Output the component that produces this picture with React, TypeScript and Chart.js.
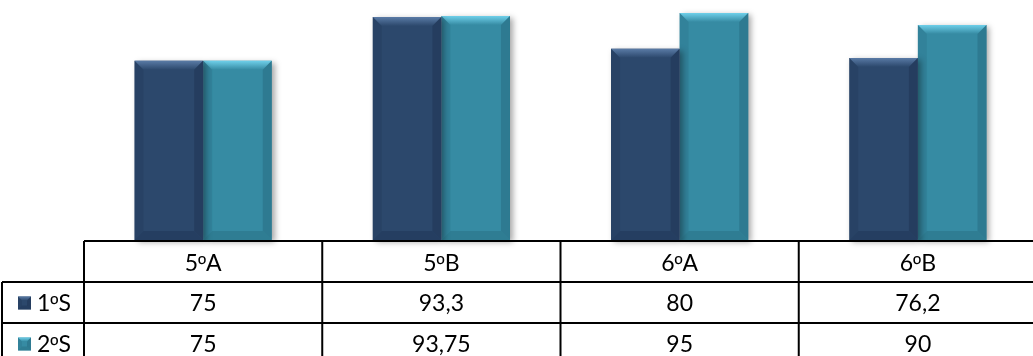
import React, { useEffect, useRef } from "react";
import { Chart, registerables } from "chart.js";

Chart.register(...registerables);

const categories = ["5ºA", "5ºB", "6ºA", "6ºB"];
const seriesNames = ["1ºS", "2ºS"];
const series1 = [75, 93.3, 80, 76.2];
const series2 = [75, 93.75, 95, 90];

const baseColors = ["#2C486C", "#368BA3"];
const lightColors = ["#5A7BA6", "#6FD0EA"];
const darkColors = ["#22395A", "#2B7489"];

const FONT = "Lato, 'Open Sans', sans-serif";
const ORD_FONT = "'Liberation Sans', Arial, sans-serif";
const FS = 23;

const fmt = (v: number) => String(v).replace(".", ",");

// draws text, rendering the ordinal indicator with a font whose º is underlined
function drawText(ctx: CanvasRenderingContext2D, text: string, x: number, y: number, align: "center" | "left") {
  const parts: { t: string; f: string }[] = [];
  for (const ch of text) {
    const f = ch === "º" ? `${FS - 1}px ${ORD_FONT}` : `${FS}px ${FONT}`;
    if (parts.length && parts[parts.length - 1].f === f) parts[parts.length - 1].t += ch;
    else parts.push({ t: ch, f });
  }
  let total = 0;
  const widths = parts.map((p) => {
    ctx.font = p.f;
    const w = ctx.measureText(p.t).width;
    total += w;
    return w;
  });
  let cx = align === "center" ? x - total / 2 : x;
  ctx.textAlign = "left";
  ctx.textBaseline = "alphabetic";
  parts.forEach((p, i) => {
    ctx.font = p.f;
    ctx.fillText(p.t, cx, y);
    cx += widths[i];
  });
}

function bevel(ctx: CanvasRenderingContext2D, x0: number, y0: number, x1: number, y1: number, b: number, di: number) {
  const g = ctx.createLinearGradient(0, y0, 0, y0 + b);
  g.addColorStop(0, lightColors[di]);
  g.addColorStop(1, baseColors[di]);
  ctx.fillStyle = g;
  ctx.beginPath();
  ctx.moveTo(x0, y0);
  ctx.lineTo(x1, y0);
  ctx.lineTo(x1 - b, y0 + b);
  ctx.lineTo(x0 + b, y0 + b);
  ctx.closePath();
  ctx.fill();
  ctx.globalAlpha = 0.35;
  ctx.fillStyle = darkColors[di];
  ctx.beginPath();
  ctx.moveTo(x0, y0);
  ctx.lineTo(x0 + b, y0 + b);
  ctx.lineTo(x0 + b, y1 - b);
  ctx.lineTo(x0, y1);
  ctx.closePath();
  ctx.fill();
  ctx.globalAlpha = 0.7;
  ctx.beginPath();
  ctx.moveTo(x1, y0);
  ctx.lineTo(x1 - b, y0 + b);
  ctx.lineTo(x1 - b, y1 - b);
  ctx.lineTo(x1, y1);
  ctx.closePath();
  ctx.fill();
  ctx.globalAlpha = 0.6;
  ctx.beginPath();
  ctx.moveTo(x0, y1);
  ctx.lineTo(x0 + b, y1 - b);
  ctx.lineTo(x1 - b, y1 - b);
  ctx.lineTo(x1, y1);
  ctx.closePath();
  ctx.fill();
  ctx.globalAlpha = 1;
}

const barStylePlugin = {
  id: "barStyle",
  beforeDatasetDraw(chart: any) {
    const ctx = chart.ctx;
    ctx.save();
    ctx.shadowColor = "rgba(0,0,0,0.35)";
    ctx.shadowBlur = 6;
    ctx.shadowOffsetX = 3;
    ctx.shadowOffsetY = 2;
  },
  afterDatasetDraw(chart: any, args: any) {
    const ctx = chart.ctx;
    ctx.restore();
    args.meta.data.forEach((el: any) => {
      const x0 = el.x - el.width / 2;
      const x1 = el.x + el.width / 2;
      ctx.save();
      bevel(ctx, x0, el.y, x1, el.base, 9, args.index);
      ctx.restore();
    });
  },
};

const tablePlugin = {
  id: "dataTable",
  afterDraw(chart: any) {
    const ctx = chart.ctx;
    const area = chart.chartArea;
    const xs = chart.scales.x;
    const H = chart.height;
    const W = chart.width;
    const top = area.bottom + 1;
    const rowH = 41;
    const n = categories.length;
    const step = xs.getPixelForValue(1) - xs.getPixelForValue(0);
    const bounds: number[] = [];
    for (let i = 0; i <= n; i++) {
      bounds.push(i < n ? xs.getPixelForValue(i) - step / 2 : area.right);
    }
    ctx.save();
    ctx.strokeStyle = "#000";
    ctx.lineWidth = 2;
    ctx.beginPath();
    ctx.moveTo(bounds[0], top);
    ctx.lineTo(W, top);
    for (let r = 1; r <= 2; r++) {
      ctx.moveTo(2, top + rowH * r);
      ctx.lineTo(W, top + rowH * r);
    }
    for (let i = 0; i <= n; i++) {
      ctx.moveTo(bounds[i], top);
      ctx.lineTo(bounds[i], H);
    }
    ctx.moveTo(2, top + rowH);
    ctx.lineTo(2, H);
    ctx.stroke();

    ctx.fillStyle = "#000";
    const rows = [series1, series2];
    const baseOff = 8;
    for (let i = 0; i < n; i++) {
      const cx = (bounds[i] + bounds[i + 1]) / 2;
      drawText(ctx, categories[i], cx, top + rowH / 2 + baseOff + 1, "center");
      drawText(ctx, fmt(rows[0][i]), cx, top + rowH * 1.5 + baseOff, "center");
      drawText(ctx, fmt(rows[1][i]), cx, top + rowH * 2.5 + baseOff, "center");
    }
    for (let r = 0; r < 2; r++) {
      const cy = top + rowH * (r + 1.5);
      const sx = 18, s = 13, sy = cy - 6;
      ctx.fillStyle = baseColors[r];
      ctx.fillRect(sx, sy, s, s);
      bevel(ctx, sx, sy, sx + s, sy + s, 4, r);
      ctx.fillStyle = "#000";
      drawText(ctx, seriesNames[r], 37, cy + baseOff, "left");
    }
    ctx.restore();
  },
};

export default function App() {
  const ref = useRef<HTMLCanvasElement>(null);
  useEffect(() => {
    if (!ref.current) return;
    const chart = new Chart(ref.current, {
      type: "bar",
      data: {
        labels: categories,
        datasets: [
          { label: seriesNames[0], data: series1, backgroundColor: baseColors[0], borderWidth: 0, clip: false as any },
          { label: seriesNames[1], data: series2, backgroundColor: baseColors[1], borderWidth: 0, clip: false as any },
        ],
      },
      options: {
        responsive: false,
        animation: false,
        layout: { padding: { left: 84, right: 0, top: 1, bottom: 116 } },
        datasets: { bar: { categoryPercentage: 0.576, barPercentage: 1 } },
        scales: {
          x: { display: false },
          y: { display: false, min: 0, max: 100 },
        },
        plugins: { legend: { display: false }, tooltip: { enabled: false } },
      },
      plugins: [barStylePlugin, tablePlugin],
    });
    return () => chart.destroy();
  }, []);
  return (
    <div style={{ position: "absolute", left: 0, top: 0, width: 1033, height: 356, overflow: "hidden", background: "#fff" }}>
      <canvas ref={ref} width={1037} height={356} style={{ width: 1037, height: 356, display: "block" }} />
    </div>
  );
}
